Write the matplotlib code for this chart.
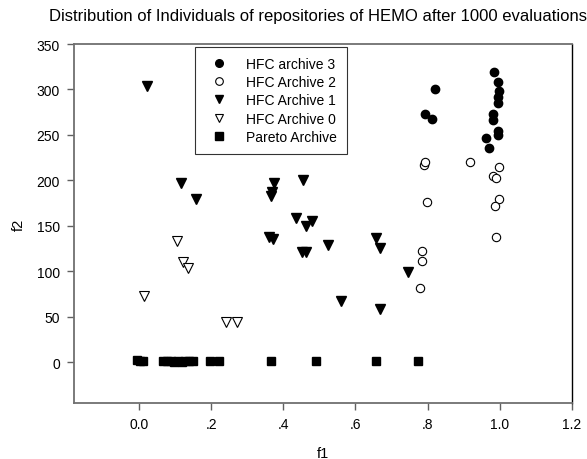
import matplotlib
matplotlib.use("Agg")
import matplotlib.pyplot as plt

plt.rcParams['font.family'] = ['Liberation Sans', 'DejaVu Sans']

arch3_x = [0.819, 0.794, 0.812, 0.985, 0.996, 0.997, 0.996, 0.996, 0.982, 0.982, 0.996, 0.996, 0.962, 0.969]
arch3_y = [300.7, 273, 267.6, 319.7, 308, 298, 291.5, 285, 273, 266.5, 254.7, 250, 246.7, 235.7]

arch2_x = [0.791, 0.794, 0.916, 0.997, 0.982, 0.989, 0.798, 0.997, 0.988, 0.989, 0.784, 0.784, 0.779]
arch2_y = [217, 219.9, 219.9, 214.4, 205.2, 202.3, 176.5, 179.5, 172, 137.3, 122.6, 110.9, 81.2]

arch1_x = [0.021, 0.116, 0.159, 0.374, 0.366, 0.370, 0.455, 0.434, 0.464, 0.480, 0.360, 0.372,
           0.525, 0.453, 0.464, 0.559, 0.657, 0.669, 0.745, 0.667]
arch1_y = [304, 197, 179, 197, 183, 187, 200, 159, 150, 155, 138, 135,
           129, 121, 121, 67, 136, 126, 99, 58]

arch0_x = [0.106, 0.121, 0.135, 0.015, 0.241, 0.272]
arch0_y = [133.6, 110.5, 103.2, 72.3, 43.7, 43.7]

pareto_x = [-0.005, 0.003, 0.011, 0.066, 0.077, 0.088, 0.098, 0.108, 0.118, 0.128, 0.138, 0.149,
            0.197, 0.222, 0.367, 0.49, 0.656, 0.774]
pareto_y = [2, 1.5, 1.5, 1.5, 1.5, 1, 0.5, 1, 0.5, 1, 1.5, 1,
            1.5, 1, 1, 1, 1, 1]

xticks = [0.0, 0.2, 0.4, 0.6, 0.8, 1.0, 1.2]
xticklabels = ['0.0', '.2', '.4', '.6', '.8', '1.0', '1.2']
yticks = [0, 50, 100, 150, 200, 250, 300, 350]

fig = plt.figure(figsize=(5.87, 4.6), dpi=100)
ax = fig.add_axes([74/587, 1 - 404/460, (572 - 74)/587, (404 - 45)/460])

ms = 6
ax.plot(arch3_x, arch3_y, 'o', color='black', markersize=ms, linestyle='none', label='HFC archive 3')
ax.plot(arch2_x, arch2_y, 'o', markerfacecolor='white', markeredgecolor='black', markeredgewidth=0.8,
        markersize=ms, linestyle='none', label='HFC Archive 2')
ax.plot(arch1_x, arch1_y, 'v', color='black', markersize=ms + 1, linestyle='none', label='HFC Archive 1')
ax.plot(arch0_x, arch0_y, 'v', markerfacecolor='white', markeredgecolor='black', markeredgewidth=0.8,
        markersize=ms + 1, linestyle='none', label='HFC Archive 0')
ax.plot(pareto_x, pareto_y, 's', color='black', markersize=ms, linestyle='none', label='Pareto Archive')

ax.set_xlim(-0.18, 1.2)
ax.set_ylim(-45, 350)
ax.set_xticks(xticks)
ax.set_xticklabels(xticklabels)
ax.set_yticks(yticks)
ax.tick_params(direction='out', length=5, width=1, color='#606060', labelsize=10, pad=5)

for s in ['left', 'bottom', 'top']:
    ax.spines[s].set_color('#707070')
    ax.spines[s].set_linewidth(1.3)
ax.spines['right'].set_color('black')
ax.spines['right'].set_linewidth(1.0)

ax.set_xlabel('f1', fontsize=10.5, labelpad=11)
ax.set_ylabel('f2', fontsize=10.5, labelpad=8)

leg = ax.legend(loc='upper left', bbox_to_anchor=((195 - 74) / 498, 1 - (48 - 45) / 359),
                fontsize=10, frameon=True, fancybox=False, edgecolor='black',
                handletextpad=0.95, borderpad=0.72, labelspacing=0.3, handlelength=2.0,
                borderaxespad=0)
leg.get_frame().set_linewidth(0.8)
for h in leg.legend_handles:
    h.set_markersize(5.5)

fig.text(49/587, 1 - 17/460, 'Distribution of Individuals of repositories of HEMO after 1000 evaluations',
         fontsize=12, ha='left', va='center')

fig.savefig('out.png', dpi=100)
